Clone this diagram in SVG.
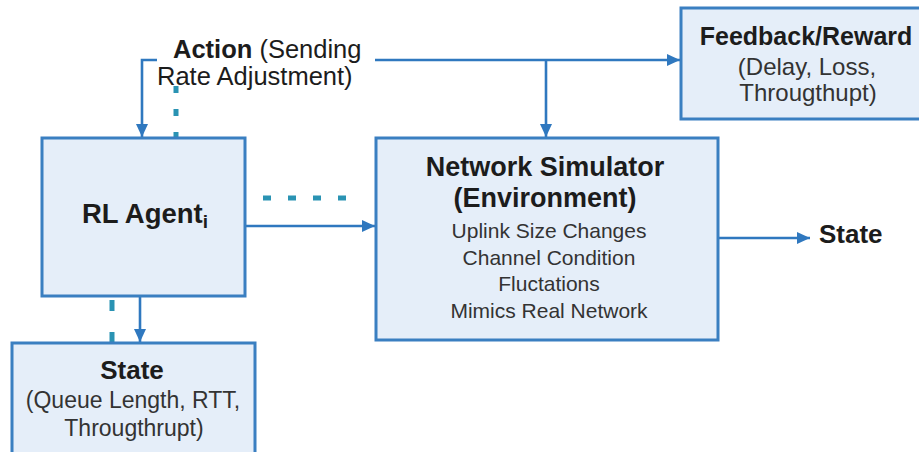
<svg xmlns="http://www.w3.org/2000/svg" width="919" height="452" viewBox="0 0 919 452">
<defs>
<marker id="arr" markerUnits="userSpaceOnUse" markerWidth="14" markerHeight="12" refX="13" refY="6" orient="auto">
<path d="M0,0 L13,6 L0,12 z" fill="#2f78bf"/>
</marker>
<style>
.box{fill:#e5eef9;stroke:#3a7fc1;stroke-width:3}
.conn{fill:none;stroke:#2f78bf;stroke-width:2.6}
.dot{fill:none;stroke:#2a93b3;stroke-width:5}
.t{font-family:"Liberation Sans",Arial,sans-serif;fill:#1c1c1c}
.b{font-weight:bold}
.s{fill:#333}
</style>
</defs>
<rect width="919" height="452" fill="#ffffff"/>
<g id="connectors">
<path class="conn" d="M375 60 H680" marker-end="url(#arr)"/>
<path class="conn" d="M546 60 V137" marker-end="url(#arr)"/>
<path class="conn" d="M157 60 H142 V137" marker-end="url(#arr)"/>
<path class="conn" d="M245 226 H375" marker-end="url(#arr)"/>
<path class="conn" d="M718 238 H810" marker-end="url(#arr)"/>
<path class="conn" d="M140 296 V342" marker-end="url(#arr)"/>
<path class="dot" d="M176 86 V138" stroke-dasharray="7 16"/>
<path class="dot" d="M263 198 H346" stroke-dasharray="8 17"/>
<path class="dot" d="M112 300 V343" stroke-dasharray="11 21"/>
</g>
<g id="action-label">
<text class="t" x="173" y="58" font-size="25.5"><tspan class="b">Action</tspan> (Sending</text>
<text class="t" x="157" y="85" font-size="25.5">Rate Adjustment)</text>
</g>
<g id="rl-agent">
<rect class="box" x="42" y="138" width="203" height="158"/>
<text class="t b" x="82" y="223" font-size="27.5">RL Agent<tspan font-size="19" dy="5">i</tspan></text>
</g>
<g id="network-simulator">
<rect class="box" x="376" y="138" width="342" height="202"/>
<text class="t b" x="545" y="176" font-size="27" text-anchor="middle">Network Simulator</text>
<text class="t b" x="545" y="207" font-size="27" text-anchor="middle">(Environment)</text>
<text class="t s" x="549" y="238" font-size="21" text-anchor="middle">Uplink Size Changes</text>
<text class="t s" x="549" y="265" font-size="21" text-anchor="middle">Channel Condition</text>
<text class="t s" x="549" y="291" font-size="21" text-anchor="middle">Fluctations</text>
<text class="t s" x="549" y="318" font-size="21" text-anchor="middle">Mimics Real Network</text>
</g>
<g id="feedback">
<rect class="box" x="681" y="8" width="250" height="111"/>
<text class="t b" x="806" y="45" font-size="25" text-anchor="middle">Feedback/Reward</text>
<text class="t s" x="807" y="75" font-size="24" text-anchor="middle">(Delay, Loss,</text>
<text class="t s" x="808" y="101" font-size="24" text-anchor="middle">Througthupt)</text>
</g>
<g id="state-out">
<text class="t b" x="819" y="243" font-size="26">State</text>
</g>
<g id="state-box">
<rect class="box" x="12" y="343" width="243" height="125"/>
<text class="t b" x="132" y="379" font-size="26" text-anchor="middle">State</text>
<text class="t s" x="133" y="408" font-size="23" text-anchor="middle">(Queue Length, RTT,</text>
<text class="t s" x="134" y="436" font-size="23" text-anchor="middle">Througthrupt)</text>
</g>
</svg>
